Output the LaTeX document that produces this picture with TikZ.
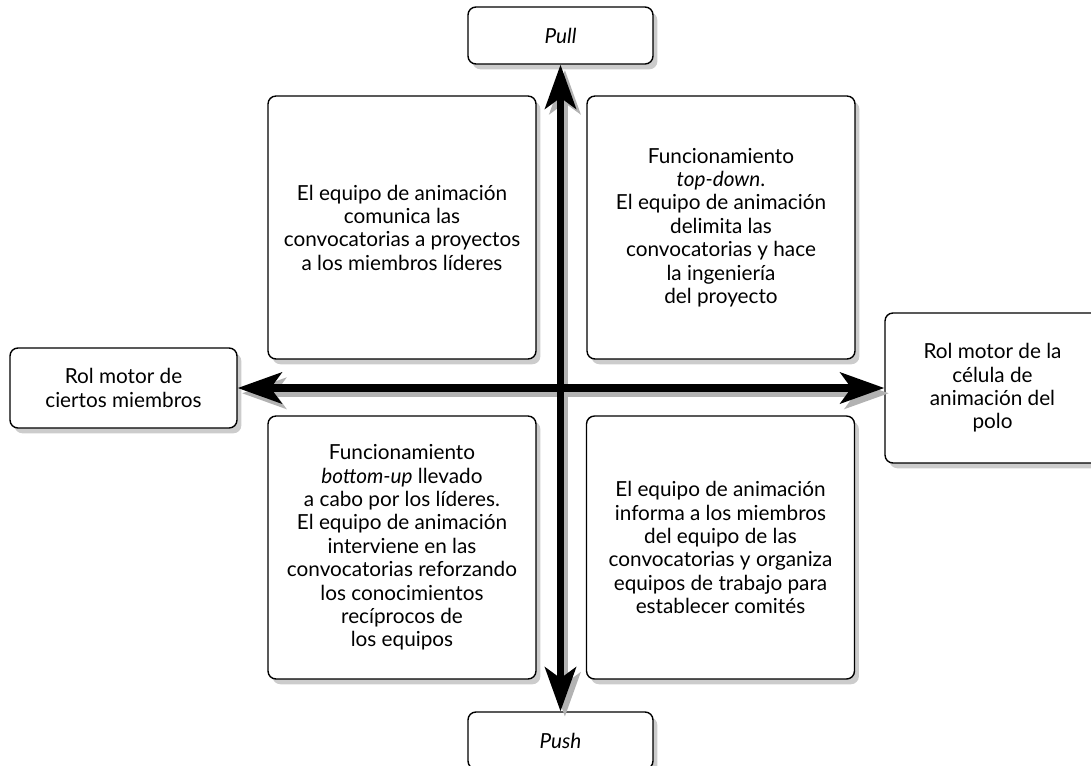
\documentclass[tikz,border=0pt]{standalone}
\usepackage{fontspec}
\setmainfont{Lato}
\usetikzlibrary{arrows.meta,shadows}
\tikzset{
  box/.style={draw,line width=.8pt,rounded corners=4.5pt,fill=white,align=center,inner sep=0pt,
    drop shadow={shadow xshift=2.5pt,shadow yshift=-3pt,opacity=.4},
    font=\fontsize{11.8}{13.3}\selectfont},
  quad/.style={box,minimum width=5.36cm,minimum height=5.26cm},
  pole/.style={box,minimum width=3.7cm,minimum height=1.14cm},
  axis/.style={line width=4pt,{Stealth[length=.88cm,width=.62cm,inset=.22cm]}-{Stealth[length=.88cm,width=.62cm,inset=.22cm]}},
  axisshadow/.style={axis,draw=black!30,transform canvas={shift={(2.5pt,-3pt)}}}
}
\begin{document}
\begin{tikzpicture}[x=.02cm,y=-.02cm]
\useasboundingbox (0,0) rectangle (1091,765);
% quadrants
\node[quad] (tl) at (402,227.5) {El equipo de animación\\comunica las\\convocatorias a proyectos\\a los miembros líderes};
\node[quad] (tr) at (721,227.5) {Funcionamiento\\\emph{top-down}.\\El equipo de animación\\delimita las\\convocatorias y hace\\la ingeniería\\del proyecto};
\node[quad] (bl) at (402,547.5) {Funcionamiento\\\emph{bottom-up} llevado\\a cabo por los líderes.\\El equipo de animación\\interviene en las\\convocatorias reforzando\\los conocimientos\\recíprocos de\\los equipos};
\node[quad] (br) at (720.5,547.5) {El equipo de animación\\informa a los miembros\\del equipo de las\\convocatorias y organiza\\equipos de trabajo para\\establecer comités};
% poles
\node[pole] (pull) at (560.5,35.5) {\emph{Pull}};
\node[pole] (push) at (560.5,740.5) {\emph{Push}};
\node[box,minimum width=4.54cm,minimum height=1.6cm] (left) at (123.5,388) {Rol motor de\\ciertos miembros};
\node[box,minimum width=4.3cm,minimum height=3cm] (right) at (992.5,388) {Rol motor de la\\célula de\\animación del\\polo};
% axes
\draw[axisshadow] (pull) -- (push);
\draw[axisshadow] (left) -- (right);
\draw[axis] (pull) -- (push);
\draw[axis] (left) -- (right);
\end{tikzpicture}
\end{document}
